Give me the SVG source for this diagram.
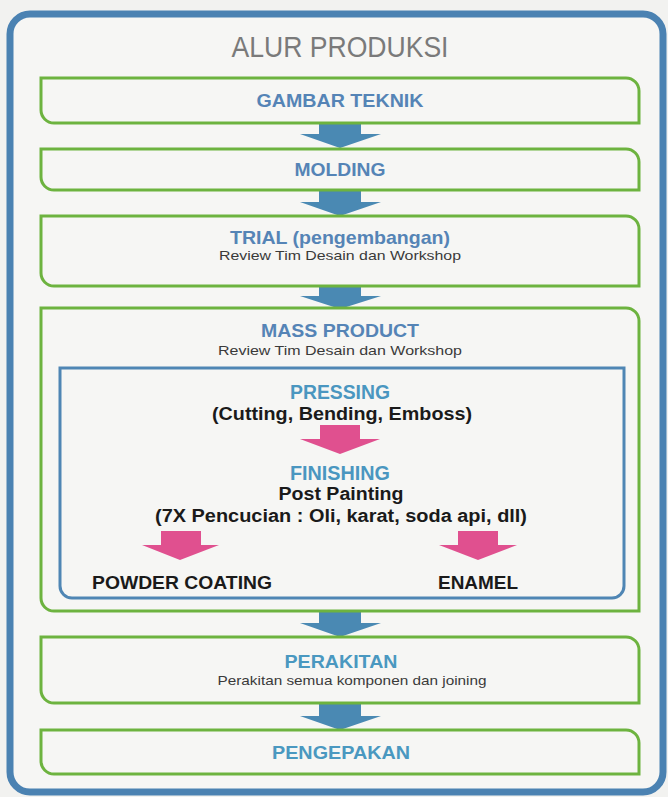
<svg xmlns="http://www.w3.org/2000/svg" width="668" height="797" viewBox="0 0 668 797">
  <style>
    .stage { fill: none; stroke: #6db33f; stroke-width: 3; }
    .inner { fill: none; stroke: #4f86b4; stroke-width: 3; }
    .frame { fill: #f6f6f4; stroke: #4b82b2; stroke-width: 7; }
    .flow { fill: #4a89b3; }
    .sub-flow { fill: #e0508f; }
    text { font-family: "Liberation Sans", Arial, sans-serif; text-anchor: middle; }
    .head { font-size: 19px; font-weight: bold; fill: #5584b6; }
    .head2 { font-size: 19px; font-weight: bold; fill: #4a98c0; }
    .step { font-size: 20px; fill: #4a96c0; font-weight: bold; }
    .note { font-size: 13px; fill: #3a3a3a; }
    .bold { font-size: 18px; font-weight: bold; fill: #1a1a1a; }
    .title { font-size: 30px; fill: #7a7a7a; }
  </style>

  <rect x="0" y="0" width="668" height="797" fill="#f2f2f0"/>
  <rect class="frame" x="10" y="14" width="653" height="778" rx="20" ry="20"/>

  <text class="title" x="340" y="57" textLength="217" lengthAdjust="spacingAndGlyphs">ALUR PRODUKSI</text>

  <!-- block arrows between stages -->
  <g id="connectors">
    <path class="flow" d="M319 122 H361 V134 H381 L340 148 L300 134 H319 Z"/>
    <path class="flow" d="M319 189 H361 V202 H381 L340 216 L300 202 H319 Z"/>
    <path class="flow" d="M319 285 H361 V296 H381 L340 309 L300 296 H319 Z"/>
    <path class="flow" d="M319 611 H361 V623 H381 L340 637 L300 623 H319 Z"/>
    <path class="flow" d="M319 702 H361 V716 H381 L340 730 L300 716 H319 Z"/>
    <path class="sub-flow" d="M320 425 H360 V439 H380 L340 454 L300 439 H320 Z"/>
    <path class="sub-flow" d="M161 531 H201 V545 H219 L180 560 L142 545 H161 Z"/>
    <path class="sub-flow" d="M458 531 H498 V545 H517 L478 560 L439 545 H458 Z"/>
  </g>

  <g id="gambar-teknik">
    <path class="stage" d="M41 78 H626 A13 13 0 0 1 639 91 V123 H54 A13 13 0 0 1 41 110 Z"/>
    <text class="head" x="340" y="107" textLength="167" lengthAdjust="spacingAndGlyphs">GAMBAR TEKNIK</text>
  </g>

  <g id="molding">
    <path class="stage" d="M41 149 H626 A13 13 0 0 1 639 162 V190 H54 A13 13 0 0 1 41 177 Z"/>
    <text class="head" x="340" y="176" textLength="91" lengthAdjust="spacingAndGlyphs">MOLDING</text>
  </g>

  <g id="trial">
    <path class="stage" d="M41 216 H626 A13 13 0 0 1 639 229 V286 H54 A13 13 0 0 1 41 273 Z"/>
    <text class="head" x="340" y="244" textLength="220" lengthAdjust="spacingAndGlyphs">TRIAL (pengembangan)</text>
    <text class="note" x="340" y="260" textLength="242" lengthAdjust="spacingAndGlyphs">Review Tim Desain dan Workshop</text>
  </g>

  <g id="mass-product">
    <path class="stage" d="M41 308 H626 A13 13 0 0 1 639 321 V611 H54 A13 13 0 0 1 41 598 Z"/>
    <text class="head" x="340" y="337" textLength="158" lengthAdjust="spacingAndGlyphs">MASS PRODUCT</text>
    <text class="note" x="340" y="355" textLength="244" lengthAdjust="spacingAndGlyphs">Review Tim Desain dan Workshop</text>
  </g>

  <g id="production-detail">
    <path class="inner" d="M60 368 H624 V586 A12 12 0 0 1 612 598 H72 A12 12 0 0 1 60 586 Z"/>
  </g>

  <g id="pressing">
    <text class="step" x="340" y="399" textLength="100" lengthAdjust="spacingAndGlyphs">PRESSING</text>
    <text class="bold" x="342" y="420" textLength="260" lengthAdjust="spacingAndGlyphs">(Cutting, Bending, Emboss)</text>
  </g>

  <g id="finishing">
    <text class="step" x="340" y="480" textLength="100" lengthAdjust="spacingAndGlyphs">FINISHING</text>
    <text class="bold" x="341" y="500" textLength="125" lengthAdjust="spacingAndGlyphs">Post Painting</text>
    <text class="bold" x="341" y="522" textLength="372" lengthAdjust="spacingAndGlyphs">(7X Pencucian : Oli, karat, soda api, dll)</text>
  </g>

  <g id="powder-coating">
    <text class="bold" x="182" y="589" textLength="180" lengthAdjust="spacingAndGlyphs">POWDER COATING</text>
  </g>

  <g id="enamel">
    <text class="bold" x="478" y="589" textLength="80" lengthAdjust="spacingAndGlyphs">ENAMEL</text>
  </g>

  <g id="perakitan">
    <path class="stage" d="M41 637 H626 A13 13 0 0 1 639 650 V703 H54 A13 13 0 0 1 41 690 Z"/>
    <text class="head2" x="341" y="668" textLength="113" lengthAdjust="spacingAndGlyphs">PERAKITAN</text>
    <text class="note" x="352" y="685" textLength="269" lengthAdjust="spacingAndGlyphs">Perakitan semua komponen dan joining</text>
  </g>

  <g id="pengepakan">
    <path class="stage" d="M41 730 H626 A13 13 0 0 1 639 743 V774 H54 A13 13 0 0 1 41 761 Z"/>
    <text class="head2" x="341" y="759" textLength="138" lengthAdjust="spacingAndGlyphs">PENGEPAKAN</text>
  </g>
</svg>
